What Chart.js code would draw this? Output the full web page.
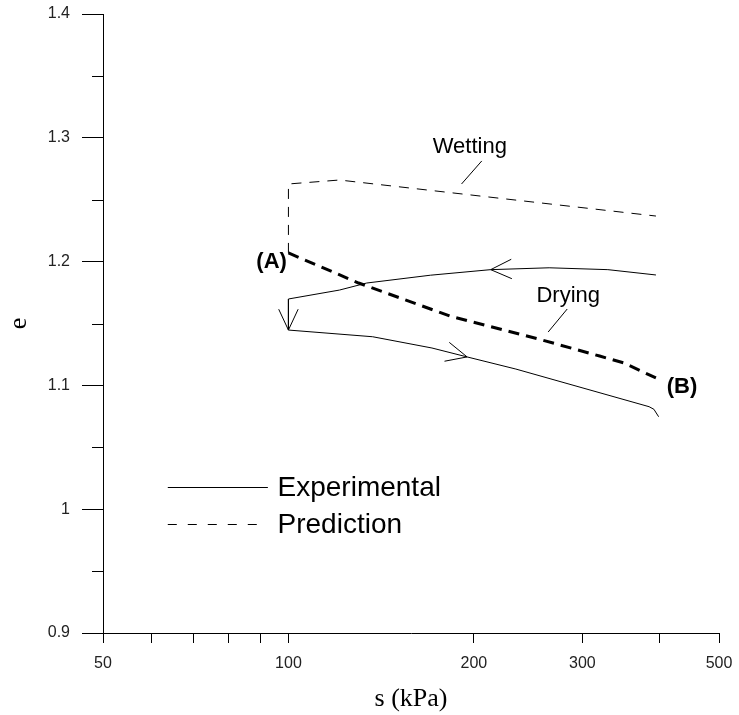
<!DOCTYPE html>
<html><head><meta charset="utf-8">
<script src="https://cdn.jsdelivr.net/npm/chart.js@4.4.1/dist/chart.umd.min.js"></script>
<style>html,body{margin:0;padding:0;background:#fff}canvas{display:block}</style>
</head><body>
<canvas id="c" width="739" height="715"></canvas>
<script>
// ---- tick labels ----
const xTickValues = [50, 60, 70, 80, 90, 100, 200, 300, 400, 500];
const xTickLabels = ['50', '', '', '', '', '100', '200', '300', '', '500'];
const yTickValues = [0.9, 1.0, 1.1, 1.2, 1.3, 1.4];
const yTickLabels = ['0.9', '1', '1.1', '1.2', '1.3', '1.4'];
const yMinorTicks = [0.95, 1.05, 1.15, 1.25, 1.35];

// ---- series ----
// Experimental (drying then wetting loop)
const expS = [395, 330, 265, 213, 170, 134, 121, 100, 100, 137, 171, 195, 234, 385, 392, 399];
const expE = [1.1892, 1.1935, 1.195, 1.1935, 1.189, 1.1827, 1.177, 1.1698, 1.1447, 1.1393, 1.1302, 1.123, 1.1132, 1.0828, 1.0807, 1.0747];
// Prediction - wetting (thin dashed)
const wetS = [100, 100, 121, 395];
const wetE = [1.207, 1.2627, 1.2659, 1.2368];
// Prediction - drying (thick dashed)
const dryS = [100, 130, 183, 258, 320, 351, 395];
const dryE = [1.207, 1.1827, 1.156, 1.1367, 1.1237, 1.118, 1.106];

// arrows on the experimental path (tip and the point it comes from)
const arrowTipS = [213, 100, 195];
const arrowTipE = [1.1935, 1.1447, 1.123];
const arrowFromS = [265, 100, 171];
const arrowFromE = [1.195, 1.1698, 1.1302];

const pts = (xs, ys) => xs.map((v, i) => ({x: v, y: ys[i]}));

const SANS = "'Liberation Sans', Arial, sans-serif";
const SERIF = "'Liberation Serif', 'Times New Roman', serif";

const annotations = {
  texts: [
    {t: 'Wetting', s: 197, e: 1.2926, bold: false},
    {t: 'Drying', s: 284.6, e: 1.1722, bold: false},
    {t: '(A)', s: 93.9, e: 1.1997, bold: true},
    {t: '(B)', s: 435.5, e: 1.0987, bold: true}
  ],
  leaders: [
    [206, 1.2813, 191, 1.2627],
    [283.5, 1.1617, 264, 1.1431]
  ],
  legend: [
    {t: 'Experimental', s0: 63.7, s1: 92.6, e: 1.0179, dash: []},
    {t: 'Prediction', s0: 63.7, s1: 90.5, e: 0.988, dash: [9, 11]}
  ],
  legendTextS: 96
};

const annotPlugin = {
  id: 'annot',
  afterDatasetsDraw(chart) {
    const {ctx, chartArea, scales: {x, y}} = chart;
    const px = v => x.getPixelForValue(v), py = v => y.getPixelForValue(v);
    ctx.save();
    ctx.strokeStyle = '#000';
    ctx.fillStyle = '#000';
    ctx.lineWidth = 1;
    // minor y ticks
    yMinorTicks.forEach(v => {
      const yy = Math.round(py(v)) + 0.5;
      ctx.beginPath();
      ctx.moveTo(chartArea.left - 11, yy);
      ctx.lineTo(chartArea.left, yy);
      ctx.stroke();
    });
    // arrows
    const L = 23, th = 25 * Math.PI / 180;
    arrowTipS.forEach((s, i) => {
      const tx = px(s), ty = py(arrowTipE[i]);
      const fx = px(arrowFromS[i]), fy = py(arrowFromE[i]);
      const a = Math.atan2(ty - fy, tx - fx);
      ctx.beginPath();
      ctx.moveTo(tx - L * Math.cos(a - th), ty - L * Math.sin(a - th));
      ctx.lineTo(tx, ty);
      ctx.lineTo(tx - L * Math.cos(a + th), ty - L * Math.sin(a + th));
      ctx.stroke();
    });
    // leader lines
    annotations.leaders.forEach(l => {
      ctx.beginPath();
      ctx.moveTo(px(l[0]), py(l[1]));
      ctx.lineTo(px(l[2]), py(l[3]));
      ctx.stroke();
    });
    // texts
    ctx.textAlign = 'center';
    ctx.textBaseline = 'middle';
    annotations.texts.forEach(o => {
      ctx.font = (o.bold ? 'bold ' : '') + '22px ' + SANS;
      ctx.fillText(o.t, px(o.s), py(o.e));
    });
    // legend
    annotations.legend.forEach(o => {
      const yy = Math.round(py(o.e)) + 0.5;
      ctx.setLineDash(o.dash);
      ctx.beginPath();
      ctx.moveTo(px(o.s0), yy);
      ctx.lineTo(px(o.s1), yy);
      ctx.stroke();
      ctx.setLineDash([]);
      ctx.font = '28px ' + SANS;
      ctx.textAlign = 'left';
      ctx.fillText(o.t, px(annotations.legendTextS), yy + 1);
    });
    ctx.restore();
  }
};

new Chart(document.getElementById('c'), {
  type: 'scatter',
  data: {
    datasets: [
      {label: 'Experimental', data: pts(expS, expE), showLine: true, borderColor: '#000', borderWidth: 1, pointRadius: 0, tension: 0, fill: false},
      {label: 'Prediction wetting', data: pts(wetS, wetE), showLine: true, borderColor: '#000', borderWidth: 1, borderDash: [10, 8], pointRadius: 0, tension: 0, fill: false},
      {label: 'Prediction drying', data: pts(dryS, dryE), showLine: true, borderColor: '#000', borderWidth: 3, borderDash: [11, 7], pointRadius: 0, tension: 0, fill: false}
    ]
  },
  options: {
    responsive: false,
    animation: false,
    devicePixelRatio: 1,
    layout: {padding: {top: 14, right: 20, bottom: 0, left: 0}},
    plugins: {legend: {display: false}, tooltip: {enabled: false}},
    scales: {
      x: {
        type: 'logarithmic', min: 50, max: 500, position: 'bottom',
        afterBuildTicks: s => { s.ticks = xTickValues.map(v => ({value: v})); },
        afterFit: s => { s.height = 82; s.paddingLeft = 0; s.paddingRight = 0; },
        border: {display: true, color: '#000', width: 1},
        grid: {display: true, drawOnChartArea: false, drawTicks: true, tickLength: 10, color: '#000', tickColor: '#000'},
        ticks: {
          autoSkip: false, maxRotation: 0, padding: 11, color: '#222',
          font: {family: SANS, size: 16},
          callback: (v) => { const i = xTickValues.indexOf(v); return i >= 0 ? xTickLabels[i] : ''; }
        },
        title: {display: true, text: 's (kPa)', color: '#000', font: {family: SERIF, size: 26}, padding: {top: 4, bottom: 0}}
      },
      y: {
        type: 'linear', min: 0.9, max: 1.4, position: 'left',
        afterBuildTicks: s => { s.ticks = yTickValues.map(v => ({value: v})); },
        afterFit: s => { s.width = 103; s.paddingTop = 0; s.paddingBottom = 0; },
        border: {display: true, color: '#000', width: 1},
        grid: {display: true, drawOnChartArea: false, drawTicks: true, tickLength: 21, color: '#000', tickColor: '#000'},
        ticks: {
          padding: 12, color: '#222',
          font: {family: SANS, size: 16},
          callback: (v) => { const i = yTickValues.findIndex(t => Math.abs(t - v) < 1e-9); return i >= 0 ? yTickLabels[i] : ''; }
        },
        title: {display: true, text: 'e', color: '#000', font: {family: SERIF, size: 26}, padding: {top: 4, bottom: 0}}
      }
    }
  },
  plugins: [annotPlugin]
});
</script>
</body></html>
